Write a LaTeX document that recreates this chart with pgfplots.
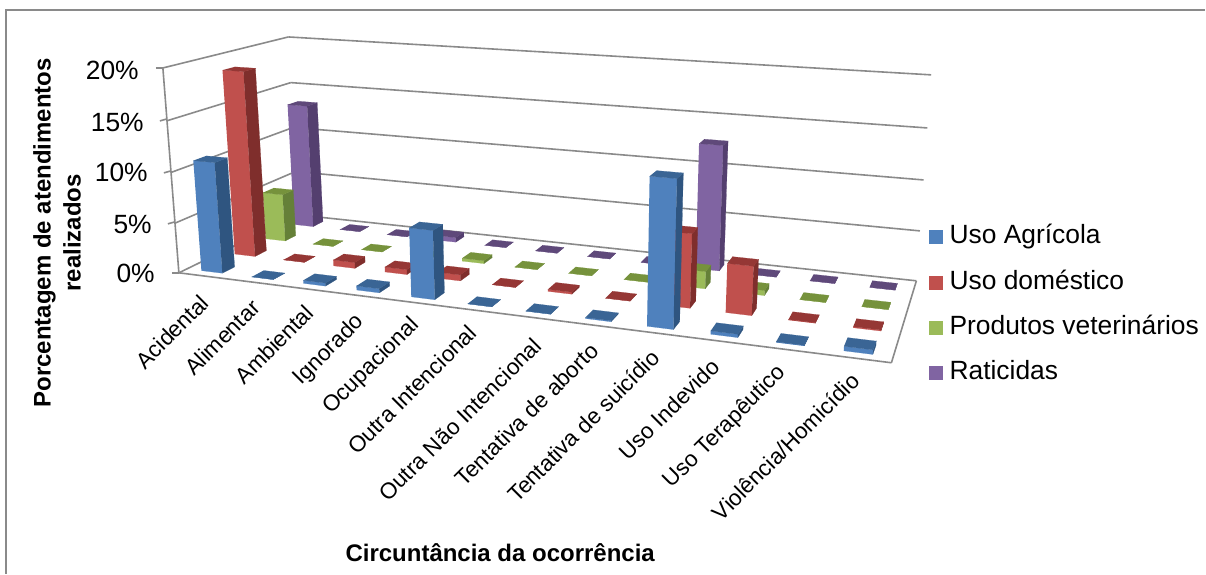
\documentclass[border=0pt]{standalone}
\usepackage{fontspec}
\setmainfont{Liberation Sans}
\usepackage{pgfplots}
\usepackage{pgfplotstable}
\pgfplotsset{compat=1.18}

% Share of attendances (%) per circumstance and product class
\pgfplotstableread{
cat agricola domestico veterinario raticida
0   11.0     18.8      5.0         13.3
1   0        0         0           0
2   0.3      0.6       0           0
3   0.4      0.5       0           0.5
4   6.6      0.6       0.3         0
5   0        0         0           0
6   0        0.2       0           0
7   0.1      0         0           0
8   13.4     7.0       1.7         12.6
9   0.3      4.6       0.5         0
10  0.05     0.05      0           0
11  0.4      0.1       0           0
}\ocorrencias

\definecolor{blueF}{HTML}{4F81BD}\definecolor{blueS}{HTML}{2F5580}\definecolor{blueT}{HTML}{3A6595}
\definecolor{redF}{HTML}{C0504D}\definecolor{redS}{HTML}{7F2E2C}\definecolor{redT}{HTML}{953735}
\definecolor{greenF}{HTML}{9BBB59}\definecolor{greenS}{HTML}{658038}\definecolor{greenT}{HTML}{76923C}
\definecolor{purpleF}{HTML}{8064A2}\definecolor{purpleS}{HTML}{543F6F}\definecolor{purpleT}{HTML}{5F497A}
\definecolor{gridc}{HTML}{8A8A8A}

% Perspective projection of the unit box (category, series, value) onto the page
\newcommand\proj[3]{%
  \pgfmathsetmacro\pw{1-0.16509*(#1)+0.15853*(#2)-0.04*(#3)}%
  \pgfmathsetmacro\px{(179+565.74*(#1)+166.24*(#2)-22.52*(#3))/\pw}%
  \pgfmathsetmacro\py{(273+30.07*(#1)-23.92*(#2)-207.72*(#3))/\pw}%
}
% Line between two box points
\newcommand\boxline[6]{%
  \proj{#1}{#2}{#3}\let\lax\px\let\lay\py
  \proj{#4}{#5}{#6}\let\lbx\px\let\lby\py
  \edef\cmd{\noexpand\addplot[forget plot,gridc,line width=1.6pt,mark=none]
    coordinates {(\lax,\lay) (\lbx,\lby)};}\cmd
}
% One bar: category, row, value in %, front / side / top colours
\newcommand\drawbar[6]{%
  \pgfmathsetmacro\xa{(#1+0.5)/12-0.0175}%
  \pgfmathsetmacro\xb{\xa+0.035}%
  \pgfmathsetmacro\ya{0.06+0.26*#2}%
  \pgfmathsetmacro\yb{\ya+0.095}%
  \pgfmathsetmacro\zt{#3/20}%
  \proj{\xa}{\ya}{0}\let\Ax\px\let\Ay\py
  \proj{\xb}{\ya}{0}\let\Bx\px\let\By\py
  \proj{\xb}{\yb}{0}\let\Cx\px\let\Cy\py
  \proj{\xa}{\ya}{\zt}\let\Dx\px\let\Dy\py
  \proj{\xb}{\ya}{\zt}\let\Ex\px\let\Ey\py
  \proj{\xb}{\yb}{\zt}\let\Fx\px\let\Fy\py
  \proj{\xa}{\yb}{\zt}\let\Gx\px\let\Gy\py
  \edef\cmd{\noexpand\addplot[forget plot,fill=#4,draw=#4,line width=0.2pt,mark=none]
    coordinates {(\Ax,\Ay) (\Bx,\By) (\Ex,\Ey) (\Dx,\Dy)};
    \noexpand\addplot[forget plot,fill=#5,draw=#5,line width=0.2pt,mark=none]
    coordinates {(\Bx,\By) (\Cx,\Cy) (\Fx,\Fy) (\Ex,\Ey)};
    \noexpand\addplot[forget plot,fill=#6,draw=#6,line width=0.2pt,mark=none]
    coordinates {(\Dx,\Dy) (\Ex,\Ey) (\Fx,\Fy) (\Gx,\Gy)};}\cmd
}
% A whole row of bars taken from one column of the table
\newcommand\drawrow[5]{%
  \pgfplotsforeachungrouped \cat in {0,...,11}{%
    \pgfplotstablegetelem{\cat}{#1}\of\ocorrencias
    \let\val\pgfplotsretval
    \drawbar{\cat}{#2}{\val}{#3}{#4}{#5}%
  }%
}
\newcommand\valuelabel[3]{\node[anchor=east,inner sep=0pt,font=\fontsize{26.4}{30}\selectfont] at (axis cs:#1,#2) {#3};}
\newcommand\catlabel[3]{\node[anchor=east,rotate=45,inner sep=0pt,font=\fontsize{22.5}{26}\selectfont] at (axis cs:#1-2,#2+2) {#3};}

\begin{document}
\begin{tikzpicture}
\begin{axis}[
  width=1206pt, height=574pt, scale only axis,
  xmin=0, xmax=1206, ymin=0, ymax=574, y dir=reverse,
  hide axis, clip=false,
  legend style={at={(axis cs:930,225.5)},anchor=north west,draw=none,fill=none,
    inner sep=0pt,outer sep=0pt,row sep=21.2pt,
    font=\fontsize{26.4}{30}\selectfont,
    nodes={text height=18.5pt,text depth=5.5pt,inner sep=0pt,outer sep=0pt}},
  legend cell align=left,
  legend image code/.code={\fill[#1,draw=none] (0pt,-7pt) rectangle (14pt,7pt);\path (20pt,0pt);},
]
  % page extent
  \path (axis cs:0,0) rectangle (axis cs:1206,574);
  % chart frame
  \addplot[forget plot,gridc,line width=1.6pt,mark=none] coordinates {(6,574) (6,10) (1206,10)};

  % gridlines on both walls
  \pgfplotsforeachungrouped \lev in {0.25,0.5,0.75,1}{%
    \boxline{0}{0}{\lev}{0}{1}{\lev}
    \boxline{0}{1}{\lev}{1}{1}{\lev}
  }
  % floor outline and value axis
  \boxline{0}{0}{0}{1}{0}{0}
  \boxline{1}{0}{0}{1}{1}{0}
  \boxline{1}{1}{0}{0}{1}{0}
  \boxline{0}{1}{0}{0}{0}{0}
  \boxline{0}{0}{0}{0}{0}{1}
  \addplot[forget plot,gridc,line width=1.6pt] coordinates {(172,273) (179,273)};
  \addplot[forget plot,gridc,line width=1.6pt] coordinates {(168,224) (175,222)};
  \addplot[forget plot,gridc,line width=1.6pt] coordinates {(164,173) (171,171)};
  \addplot[forget plot,gridc,line width=1.6pt] coordinates {(160,121) (167,119)};
  \addplot[forget plot,gridc,line width=1.6pt] coordinates {(156,68) (163,68)};

  % bars, back row first
  \drawrow{raticida}{3}{purpleF}{purpleS}{purpleT}
  \drawrow{veterinario}{2}{greenF}{greenS}{greenT}
  \drawrow{domestico}{1}{redF}{redS}{redT}
  \drawrow{agricola}{0}{blueF}{blueS}{blueT}

  % legend
  \addlegendimage{fill=blueF}\addlegendentry{Uso Agrícola}
  \addlegendimage{fill=redF}\addlegendentry{Uso doméstico}
  \addlegendimage{fill=greenF}\addlegendentry{Produtos veterinários}
  \addlegendimage{fill=purpleF}\addlegendentry{Raticidas}

  % value axis labels
  \valuelabel{155}{274}{0\%}
  \valuelabel{152}{225}{5\%}
  \valuelabel{148}{173}{10\%}
  \valuelabel{144}{123}{15\%}
  \valuelabel{139}{70}{20\%}

  % category labels
  \catlabel{207}{297}{Acidental}
  \catlabel{258}{302}{Alimentar}
  \catlabel{312}{307}{Ambiental}
  \catlabel{363}{317}{Ignorado}
  \catlabel{418}{320}{Ocupacional}
  \catlabel{475}{327}{Outra Intencional}
  \catlabel{540}{340}{Outra Não Intencional}
  \catlabel{597}{345}{Tentativa de aborto}
  \catlabel{658}{352}{Tentativa de suicídio}
  \catlabel{718}{361}{Uso Indevido}
  \catlabel{785}{368}{Uso Terapêutico}
  \catlabel{858}{375}{Violência/Homicídio}

  % axis titles
  \node[rotate=90,align=center,inner sep=0pt,font=\fontsize{24}{30}\selectfont\bfseries] at (axis cs:57,233)
    {Porcentagem de atendimentos\\realizados};
  \node[inner sep=0pt,font=\fontsize{24}{28}\selectfont\bfseries] at (axis cs:500.5,553) {Circuntância da ocorrência};
\end{axis}
\end{tikzpicture}
\end{document}
